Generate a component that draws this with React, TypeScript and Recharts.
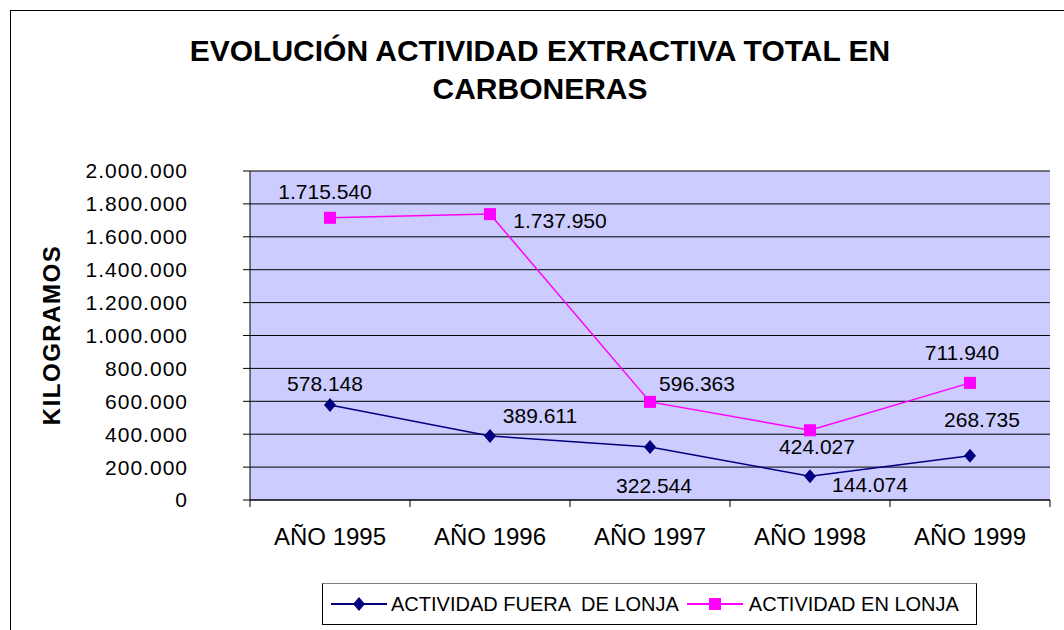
import { LineChart, Line, XAxis, YAxis, CartesianGrid, LabelList } from "recharts";

const years = ["AÑO 1995", "AÑO 1996", "AÑO 1997", "AÑO 1998", "AÑO 1999"];
const fueraLonja = [578148, 389611, 322544, 144074, 268735];
const enLonja = [1715540, 1737950, 596363, 424027, 711940];
const yTicks = [0, 200000, 400000, 600000, 800000, 1000000, 1200000, 1400000, 1600000, 1800000, 2000000];

// label placement around each point (excel-style manual positions)
const fueraOffsets = [[-5, -21], [50, -20], [4, 39], [60, 8], [12, -36]];
const lonjaOffsets = [[-5, -26], [70, 6], [47, -18], [7, 16], [-8, -30]];

const data = years.map((year, i) => ({ year, fuera: fueraLonja[i], lonja: enLonja[i] }));

const FONT = '"Liberation Sans", Arial, sans-serif';
const NAVY = "#000080";
const PINK = "#FF00FF";
const BAND = 160;

const fmt = (v: number) => String(v).replace(/\B(?=(\d{3})+(?!\d))/g, ".");

const Diamond = (p: any) => (
  <path
    key={`d-${p.index}`}
    d={`M${p.cx},${p.cy - 7} L${p.cx + 6},${p.cy} L${p.cx},${p.cy + 7} L${p.cx - 6},${p.cy} Z`}
    fill={NAVY}
  />
);

const Square = (p: any) => (
  <rect key={`s-${p.index}`} x={p.cx - 6} y={p.cy - 6} width={12} height={12} fill={PINK} />
);

const makeLabel = (offsets: number[][]) => (p: any) => {
  const [dx, dy] = offsets[p.index] || [0, 0];
  return (
    <text
      x={p.x + dx}
      y={p.y + dy}
      textAnchor="middle"
      dominantBaseline="central"
      fontSize={21}
      fontFamily={FONT}
      fill="#000"
    >
      {fmt(p.value)}
    </text>
  );
};

const XTick = (p: any) => {
  const { x, y, payload, index } = p;
  return (
    <g>
      <line x1={x - BAND / 2} y1={y} x2={x - BAND / 2} y2={y + 7} stroke="#000" />
      {index === years.length - 1 && (
        <line x1={x + BAND / 2} y1={y} x2={x + BAND / 2} y2={y + 7} stroke="#000" />
      )}
      <text x={x} y={y + 45} textAnchor="middle" fontSize={24} fontFamily={FONT} fill="#000">
        {payload.value}
      </text>
    </g>
  );
};

export default function App() {
  return (
    <div
      style={{
        position: "absolute",
        left: 0,
        top: 0,
        width: 1064,
        height: 630,
        overflow: "hidden",
        background: "#fff",
        fontFamily: FONT,
      }}
    >
      <div
        style={{
          position: "absolute",
          left: 10,
          top: 10,
          width: 1200,
          height: 800,
          borderLeft: "1px solid #000",
          borderTop: "1px solid #000",
        }}
      />
      <div
        style={{
          position: "absolute",
          left: 16,
          top: 32,
          width: 1048,
          textAlign: "center",
          fontSize: 30,
          fontWeight: "bold",
          lineHeight: "38px",
          color: "#000",
        }}
      >
        EVOLUCIÓN ACTIVIDAD EXTRACTIVA TOTAL EN
        <br />
        CARBONERAS
      </div>
      <div
        style={{
          position: "absolute",
          left: 52 - 110,
          top: 335 - 15,
          width: 220,
          height: 30,
          lineHeight: "30px",
          textAlign: "center",
          fontSize: 24,
          fontWeight: "bold",
          letterSpacing: 1.5,
          transform: "rotate(-90deg)",
        }}
      >
        KILOGRAMOS
      </div>
      <div style={{ position: "absolute", left: 0, top: 0 }}>
        <LineChart width={1064} height={630} data={data} margin={{ top: 171, right: 14, bottom: 100, left: 0 }}>
          <CartesianGrid vertical={false} stroke="#000" fill="#CCCCFF" fillOpacity={1} />
          <XAxis
            dataKey="year"
            height={30}
            padding={{ left: BAND / 2, right: BAND / 2 }}
            axisLine={{ stroke: "#000" }}
            tickLine={false}
            tickSize={0}
            tickMargin={0}
            tick={<XTick />}
            interval={0}
          />
          <XAxis xAxisId="top" dataKey="year" orientation="top" height={0} tick={false} tickLine={false} axisLine={{ stroke: "#808080" }} />
          <YAxis
            width={250}
            domain={[0, 2000000]}
            ticks={yTicks}
            tickFormatter={fmt}
            interval={0}
            axisLine={{ stroke: "#000" }}
            tickLine={{ stroke: "#000" }}
            tickSize={7}
            tickMargin={55}
            tick={{ fontSize: 21, fill: "#000", fontFamily: FONT, letterSpacing: 1 }}
          />
          <YAxis yAxisId="right" orientation="right" width={0} domain={[0, 2000000]} tick={false} tickLine={false} axisLine={{ stroke: "#808080" }} />
          <Line
            dataKey="fuera"
            stroke={NAVY}
            strokeWidth={1.5}
            dot={Diamond}
            activeDot={false}
            isAnimationActive={false}
          >
            <LabelList dataKey="fuera" content={makeLabel(fueraOffsets)} />
          </Line>
          <Line
            dataKey="lonja"
            stroke={PINK}
            strokeWidth={1.5}
            dot={Square}
            activeDot={false}
            isAnimationActive={false}
          >
            <LabelList dataKey="lonja" content={makeLabel(lonjaOffsets)} />
          </Line>
        </LineChart>
      </div>
      <div
        style={{
          position: "absolute",
          left: 322,
          top: 583,
          width: 655,
          height: 42,
          border: "1px solid #000",
          borderTopColor: "#808080",
          display: "flex",
          alignItems: "center",
          fontSize: 20,
          color: "#000",
          boxSizing: "border-box",
        }}
      >
        <svg width={56} height={16} style={{ marginLeft: 8 }}>
          <line x1={0} y1={8} x2={56} y2={8} stroke={NAVY} strokeWidth={2} />
          <path d="M28,1 L34,8 L28,15 L22,8 Z" fill={NAVY} />
        </svg>
        <span style={{ marginLeft: 4, whiteSpace: "pre" }}>ACTIVIDAD FUERA  DE LONJA</span>
        <svg width={56} height={16} style={{ marginLeft: 8 }}>
          <line x1={0} y1={8} x2={56} y2={8} stroke={PINK} strokeWidth={2} />
          <rect x={22} y={2} width={12} height={12} fill={PINK} />
        </svg>
        <span style={{ marginLeft: 6 }}>ACTIVIDAD EN LONJA</span>
      </div>
    </div>
  );
}
